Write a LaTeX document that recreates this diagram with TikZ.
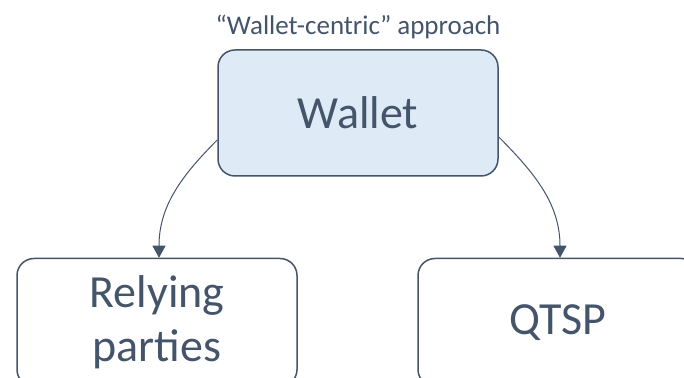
\documentclass[tikz,border=0pt]{standalone}
\usepackage{fontspec}
\setmainfont{Carlito}
\usetikzlibrary{arrows.meta,positioning}
\definecolor{slate}{HTML}{44546A}
\definecolor{paleblue}{HTML}{DEEBF7}

\begin{document}
\begin{tikzpicture}[>={Triangle[length=6pt,width=6.5pt]},node distance=40.5pt]
  \tikzstyle{box}=[draw=slate,line width=0.75pt,rounded corners=8.5pt,minimum width=140pt,minimum height=63pt,align=center,text=slate,font=\fontsize{23}{27}\selectfont]
  \tikzstyle{link}=[->,draw=slate,line width=0.5pt]
  \clip (0,0) rectangle (342pt,-189pt);
  \node[box,fill=paleblue] (wallet) at (179pt,-56.5pt) {Wallet};
  \node[box,minimum height=64pt,below=of wallet,xshift=-100.5pt] (rp) {Relying\\parties};
  \node[box,minimum height=64pt,below=of wallet,xshift=100pt] (qtsp) {QTSP};
  \node[text=slate,font=\fontsize{13.5}{16}\selectfont,inner sep=0pt,above=5pt of wallet] (title) {“Wallet-centric” approach};
  \draw[link] ([yshift=-13.5pt]wallet.west) to[out=225,in=90] ([xshift=1pt]rp.north);
  \draw[link] ([yshift=-12pt]wallet.east) to[out=-45,in=90] ([xshift=1pt]qtsp.north);
\end{tikzpicture}
\end{document}
